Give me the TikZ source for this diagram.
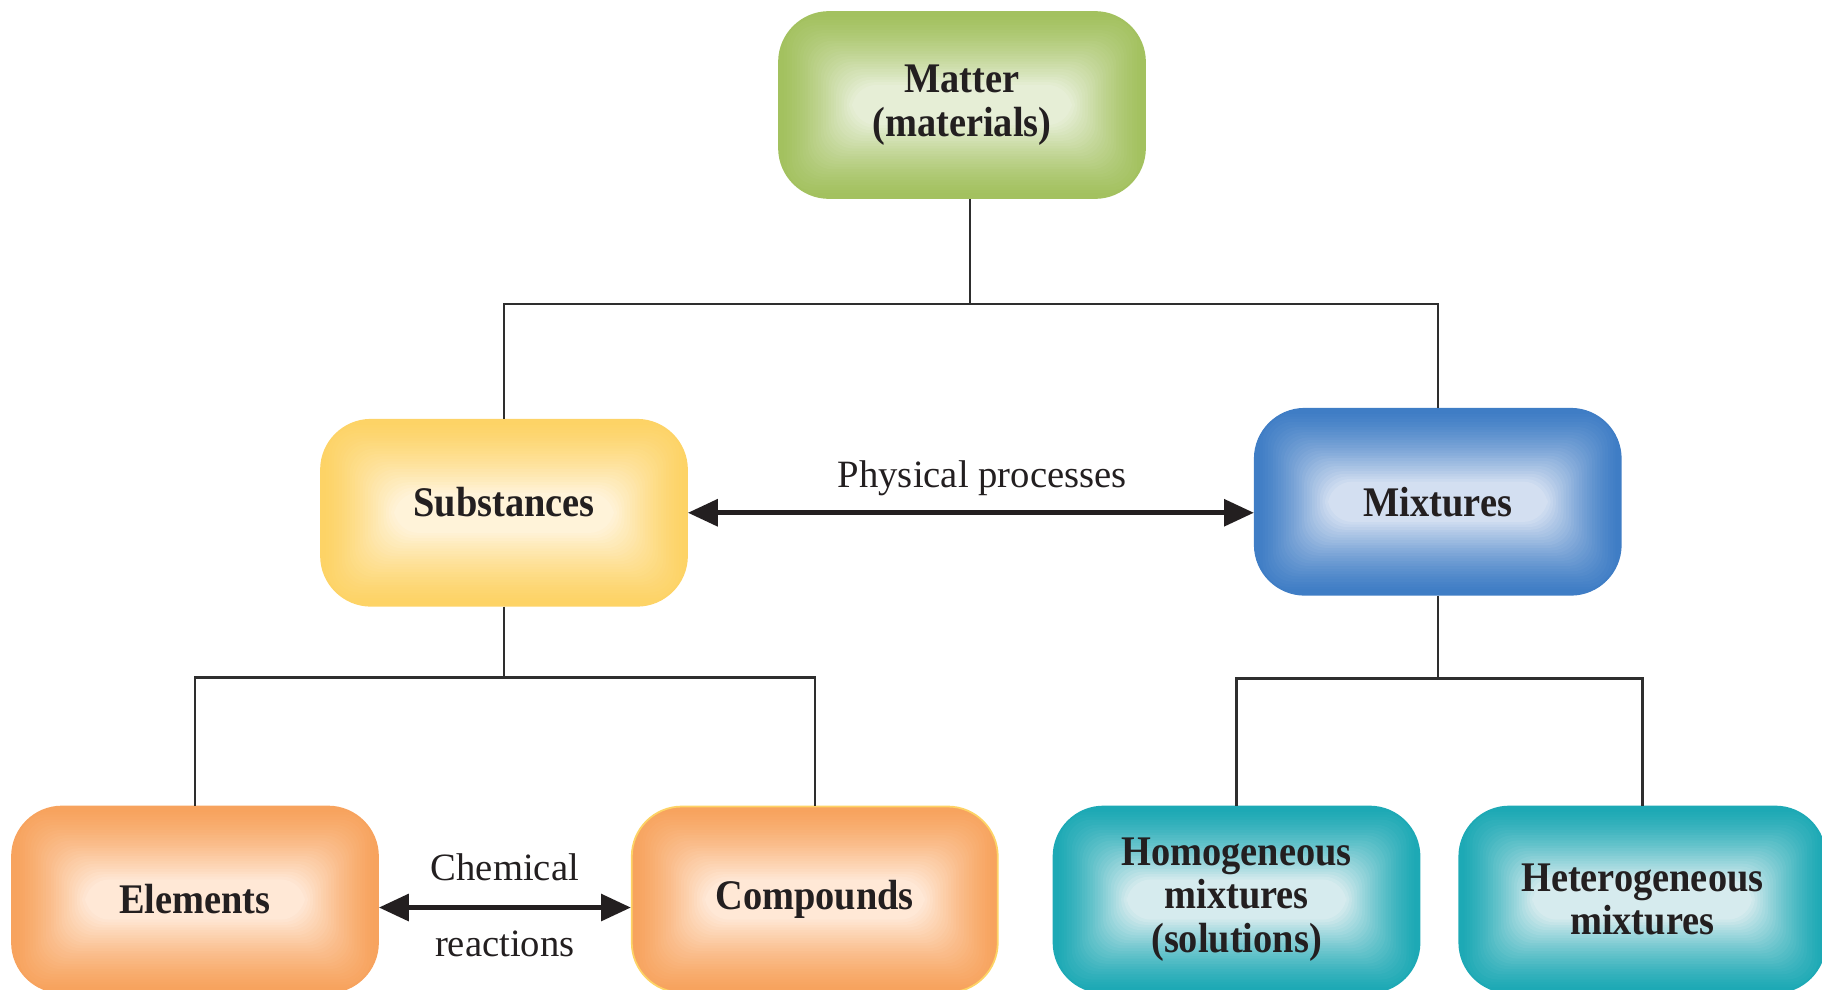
\documentclass[tikz,border=0pt]{standalone}
\usepackage{fontspec}
\setmainfont{Liberation Serif}
\newfontfamily\boxfont[FakeStretch=0.91]{Liberation Serif}
\usepackage{xcolor}
\usetikzlibrary{arrows.meta,positioning}

\definecolor{ink}{HTML}{231F20}
\definecolor{lineclr}{HTML}{2E2E2E}
\definecolor{matterin}{HTML}{E6EED6}
\definecolor{matterout}{HTML}{A3C15F}
\definecolor{substin}{HTML}{FFF3D9}
\definecolor{substout}{HTML}{FDD366}
\definecolor{mixin}{HTML}{D3DFF1}
\definecolor{mixout}{HTML}{3F7DC5}
\definecolor{orgin}{HTML}{FFE8D6}
\definecolor{orgout}{HTML}{F7A35E}
\definecolor{tealin}{HTML}{D6EBEE}
\definecolor{tealout}{HTML}{1DA9B5}

\begin{document}
\begin{tikzpicture}[
    box/.style    = {rectangle, rounded corners=5mm, minimum width=36.6mm,
                     minimum height=18.6mm, inner sep=0pt, align=center,
                     font=\boxfont\bfseries\fontsize{12}{12.4}\selectfont,
                     text=ink, line width=0.5pt},
    % inner glow: nested rounded rectangles, edge colour to centre colour
    glow/.style 2 args = {fill=#2, draw=#2, path picture={
        \foreach \k in {1,...,28}{
          \pgfmathtruncatemacro\pc{100*(\k/28)^1.4}
          \fill[#1!\pc!#2, rounded corners=2.5mm]
            ([shift={(\k*0.026,\k*0.026)}]path picture bounding box.south west) rectangle
            ([shift={(-\k*0.026,-\k*0.026)}]path picture bounding box.north east);
        }}},
    matterbox/.style = {box, glow={matterin}{matterout}},
    substbox/.style  = {box, glow={substin}{substout}},
    mixbox/.style    = {box, glow={mixin}{mixout}},
    orgbox/.style    = {box, glow={orgin}{orgout}},
    tealbox/.style   = {box, glow={tealin}{tealout}},
    tree/.style   = {draw=lineclr, line width=0.7pt},
    dbl/.style    = {{Triangle[length=8.5pt,width=7.5pt]}-{Triangle[length=8.5pt,width=7.5pt]},
                     line width=1.4pt, draw=ink},
    lbl/.style    = {font=\fontsize{11}{12}\selectfont, text=ink, inner sep=1pt},
]
\useasboundingbox (0,0) rectangle (18.22,9.89);

% ---------------- Top ----------------
\node[matterbox] (matter) at (9.62,8.84) {Matter\\(materials)};

% ---------------- Middle row ----------------
\node[substbox, below=2.2cm of matter, xshift=-4.58cm, text depth=6pt] (subst) {Substances};
\node[mixbox, right=5.66cm of subst, yshift=0.11cm] (mix) {Mixtures};

% ---------------- Bottom row ----------------
\node[orgbox, below=1.99cm of subst, xshift=-3.09cm] (elem) {Elements};
\node[orgbox, right=2.52cm of elem, draw=substout] (comp) {Compounds};
\node[tealbox, right=0.54cm of comp] (homo) {Homogeneous\\mixtures\\(solutions)};
\node[tealbox, right=0.38cm of homo] (hetero) {Heterogeneous\\mixtures};

% ---------------- Tree lines ----------------
\draw[tree] ([xshift=0.08cm]matter.south) -- ++(0,-1.05) coordinate (j1);
\draw[tree] (subst.north) |- (j1) -| (mix.north);

\draw[tree] (subst.south) -- ++(0,-0.71) coordinate (j2);
\draw[tree] (elem.north) |- (j2) -| (comp.north);

\draw[tree] (mix.south) -- ++(0,-0.83) coordinate (j3);
\draw[tree] (homo.north) |- (j3) -| (hetero.north);

% ---------------- Two-way arrows ----------------
\draw[dbl] (subst.east) -- (subst.east -| mix.west)
    node[lbl, pos=0.52, above=3pt]{Physical processes};

\draw[dbl] ([yshift=-0.08cm]elem.east) -- ([yshift=-0.08cm]comp.west)
    node[lbl, midway, above=6pt]{Chemical}
    node[lbl, midway, below=5pt]{reactions};

\end{tikzpicture}
\end{document}
